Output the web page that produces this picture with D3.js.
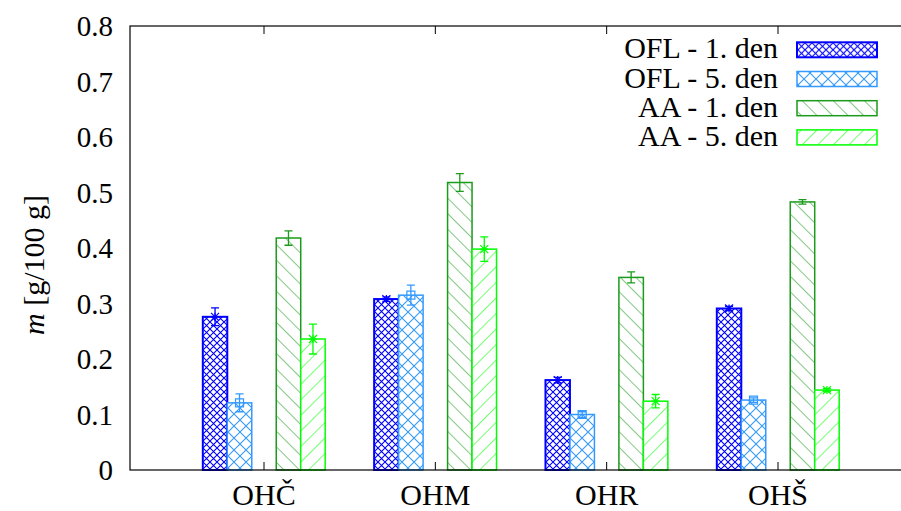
<!DOCTYPE html>
<meta charset="utf-8">
<body>
<script src="https://cdnjs.cloudflare.com/ajax/libs/d3/7.8.5/d3.min.js"></script>
<script>

var categories = ["OHČ", "OHM", "OHR", "OHŠ"];
var seriesNames = ["OFL - 1. den", "OFL - 5. den", "AA - 1. den", "AA - 5. den"];
var ofl1 = [0.276, 0.308, 0.162, 0.291];
var ofl1Err = [0.016, 0.004, 0.005, 0.004];
var ofl5 = [0.121, 0.315, 0.100, 0.126];
var ofl5Err = [0.016, 0.018, 0.005, 0.004];
var aa1 = [0.418, 0.518, 0.347, 0.483];
var aa1Err = [0.013, 0.016, 0.010, 0.004];
var aa5 = [0.236, 0.398, 0.124, 0.144];
var aa5Err = [0.027, 0.022, 0.012, 0.003];
var yTicks = [0, 0.1, 0.2, 0.3, 0.4, 0.5, 0.6, 0.7, 0.8];

var width = 901, height = 511;
var plot = {left: 130, right: 903, top: 26, bottom: 470};

var colors = ["#0000ff", "#3399ff", "#1b9b1b", "#00ff00"];
var slots = [-2, -1, 1, 2];
var markers = ["star", "square", "none", "star"];

var series = seriesNames.map(function(name, i) {
  var vals = [ofl1, ofl5, aa1, aa5][i];
  var errs = [ofl1Err, ofl5Err, aa1Err, aa5Err][i];
  return {name: name, i: i, values: categories.map((c, j) => ({cat: c, v: vals[j], e: errs[j]}))};
});

var x = d3.scalePoint().domain(categories).range([264, 778]);
var slotW = x.step() / 7;
var y = d3.scaleLinear().domain([0, 0.8]).range([plot.bottom, plot.top]);

d3.select("body").style("margin", "0px");

var svg = d3.select("body").append("svg")
    .attr("width", width)
    .attr("height", height);

// hatch patterns
var defs = svg.append("defs");
function hatch(id, size, rot, color, cross) {
  var p = defs.append("pattern")
      .attr("id", id)
      .attr("patternUnits", "userSpaceOnUse")
      .attr("width", size).attr("height", size);
  if (rot !== null) p.attr("patternTransform", "rotate(" + rot + ")");
  p.append("rect").attr("width", size).attr("height", size).attr("fill", "#fff");
  var d = cross ? `M0,0L${size},${size}M${size},0L0,${size}` : `M0,0L0,${size}`;
  p.append("path").attr("d", d).attr("stroke", color).attr("stroke-width", 1.1).attr("fill", "none");
}
hatch("p0", 7, null, colors[0], true);
hatch("p1", 12, null, colors[1], true);
hatch("p2", 11, -45, colors[2], false);
hatch("p3", 11, 45, colors[3], false);

// bars
var g = svg.selectAll("g.series")
  .data(series)
  .enter().append("g")
    .attr("class", "series");

g.selectAll("rect")
  .data(d => d.values.map(v => Object.assign({s: d.i}, v)))
  .enter().append("rect")
    .attr("x", d => x(d.cat) + (slots[d.s] - 0.5) * slotW)
    .attr("y", d => y(d.v))
    .attr("width", slotW)
    .attr("height", d => y(0) - y(d.v))
    .attr("fill", d => "url(#p" + d.s + ")")
    .attr("stroke", d => colors[d.s])
    .attr("stroke-width", d => d.s === 0 ? 2 : 1.5);

// error bars
g.selectAll("path.err")
  .data(d => d.values.map(v => Object.assign({s: d.i}, v)))
  .enter().append("path")
    .attr("class", "err")
    .attr("d", function(d) {
      var cx = x(d.cat) + slots[d.s] * slotW;
      var y1 = y(d.v + d.e), y0 = y(d.v - d.e);
      return `M${cx},${y1}L${cx},${y0}M${cx-4},${y1}L${cx+4},${y1}M${cx-4},${y0}L${cx+4},${y0}`;
    })
    .attr("stroke", d => colors[d.s])
    .attr("stroke-width", 1.3)
    .attr("fill", "none");

// point markers
g.selectAll("path.pt")
  .data(d => d.values.map(v => Object.assign({s: d.i}, v)))
  .enter().append("path")
    .attr("class", "pt")
    .attr("d", function(d) {
      var cx = x(d.cat) + slots[d.s] * slotW, cy = y(d.v), r = 4;
      if (markers[d.s] === "star")
        return `M${cx-r},${cy}L${cx+r},${cy}M${cx},${cy-r}L${cx},${cy+r}M${cx-r},${cy-r}L${cx+r},${cy+r}M${cx-r},${cy+r}L${cx+r},${cy-r}`;
      if (markers[d.s] === "square")
        return `M${cx-r},${cy-r}h${2*r}v${2*r}h${-2*r}Z`;
      return "";
    })
    .attr("stroke", d => colors[d.s])
    .attr("stroke-width", 1.2)
    .attr("fill", "none");

// frame
svg.append("rect")
    .attr("x", plot.left).attr("y", plot.top)
    .attr("width", plot.right - plot.left)
    .attr("height", plot.bottom - plot.top)
    .attr("fill", "none")
    .attr("stroke", "#000")
    .attr("stroke-width", 1.2);

// category ticks (bottom and top mirror)
categories.forEach(function(c) {
  svg.append("path")
      .attr("d", `M${x(c)},${plot.bottom}v-8M${x(c)},${plot.top}v8`)
      .attr("stroke", "#000").attr("stroke-width", 1);
});

function texty(sel, size) {
  return sel
    .attr("font-size", size)
    .style("font-family", () => '"Liberation Serif"');
}

// axis labels
svg.selectAll("text.ytick")
  .data(yTicks)
  .enter().append("text")
    .attr("class", "ytick")
    .attr("x", 113)
    .attr("y", d => y(d))
    .attr("dy", "0.35em")
    .attr("text-anchor", "end")
    .call(texty, 29)
    .text(d => d === 0 ? "0" : d3.format(".1f")(d));

svg.selectAll("text.xtick")
  .data(categories)
  .enter().append("text")
    .attr("class", "xtick")
    .attr("x", d => x(d))
    .attr("y", 505)
    .attr("text-anchor", "middle")
    .call(texty, 30)
    .text(d => d);

var ylab = svg.append("text")
    .attr("transform", "translate(44,265) rotate(-90)")
    .attr("text-anchor", "middle")
    .call(texty, 30);
ylab.append("tspan").attr("font-style", "italic").text("m");
ylab.append("tspan").text(" [g/100 g]");

// legend
var leg = svg.selectAll("g.legend")
  .data(series)
  .enter().append("g")
    .attr("class", "legend")
    .attr("transform", d => `translate(0,${49.8 + d.i * 29.2})`);

leg.append("text")
    .attr("x", 778)
    .attr("y", 8.5)
    .attr("text-anchor", "end")
    .call(texty, 30)
    .text(d => d.name);

leg.append("rect")
    .attr("x", 797).attr("y", -7.5)
    .attr("width", 80).attr("height", 15)
    .attr("fill", d => "url(#p" + d.i + ")")
    .attr("stroke", d => colors[d.i])
    .attr("stroke-width", d => d.i === 0 ? 2 : 1.5);

</script>
